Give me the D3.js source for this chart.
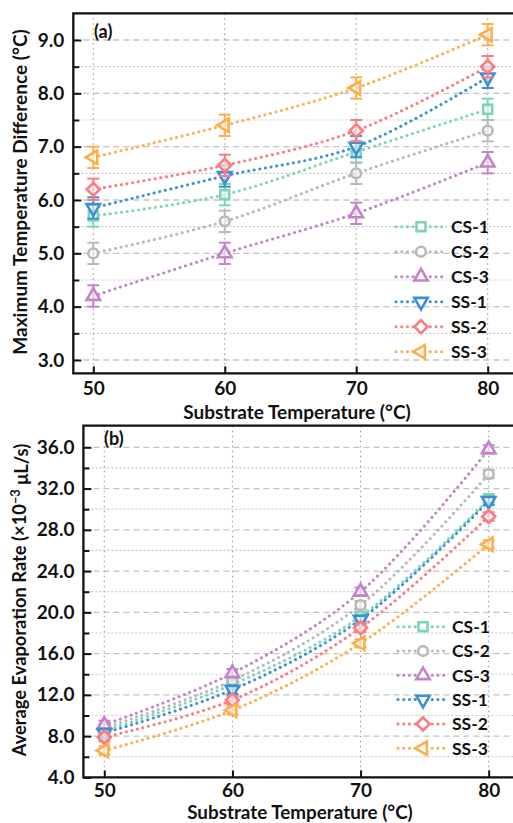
<!DOCTYPE html>
<html><head><meta charset="utf-8">
<script src="https://cdn.jsdelivr.net/npm/d3@7"></script>
<style>
html,body{margin:0;padding:0;background:#fff;overflow:hidden}
text{font-family:Lato,"Open Sans",sans-serif;font-weight:700;fill:#111}
</style></head>
<body><svg id="c" width="513" height="823"></svg>
<script>
// ---------- data ----------
const temps = [50, 60, 70, 80];
const seriesNames = ["CS-1", "CS-2", "CS-3", "SS-1", "SS-2", "SS-3"];
const seriesColors = ["#7dd6b2", "#b9b9b9", "#c283c9", "#3d8fd6", "#fb7b80", "#ffae4c"];
const seriesShapes = ["square", "circle", "up", "down", "diamond", "left"];

// (a) Maximum temperature difference (°C)
const tdCS1 = [5.7, 6.1, 6.9, 7.7];
const tdCS2 = [5.0, 5.6, 6.5, 7.3];
const tdCS3 = [4.2, 5.0, 5.75, 6.7];
const tdSS1 = [5.85, 6.45, 7.0, 8.3];
const tdSS2 = [6.2, 6.65, 7.3, 8.5];
const tdSS3 = [6.8, 7.4, 8.1, 9.1];
const tdErr = [0.2, 0.2, 0.2, 0.2];

// (b) Average evaporation rate (×10^-3 µL/s)
const erCS1 = [8.5, 13.0, 19.6, 31.0];
const erCS2 = [8.8, 13.4, 20.7, 33.4];
const erCS3 = [9.1, 14.1, 22.0, 35.8];
const erSS1 = [8.3, 12.5, 19.3, 30.8];
const erSS2 = [7.9, 11.5, 18.5, 29.3];
const erSS3 = [6.6, 10.5, 17.0, 26.6];
const erErr = [0.4, 0.4, 0.4, 0.4];

const yTicksA = [3.0, 4.0, 5.0, 6.0, 7.0, 8.0, 9.0];
const yMinorA = [3.5, 4.5, 5.5, 6.5, 7.5, 8.5];
const yTicksB = [4, 8, 12, 16, 20, 24, 28, 32, 36];
const yMinorB = [6, 10, 14, 18, 22, 26, 30, 34];

const tdData = [tdCS1, tdCS2, tdCS3, tdSS1, tdSS2, tdSS3];
const erData = [erCS1, erCS2, erCS3, erSS1, erSS2, erSS3];

// ---------- drawing ----------
const svg = d3.select("#c");

function markerPath(shape) {
  switch (shape) {
    case "square": return {d: d3.symbol().type(d3.symbolSquare).size(80)(), r: 0};
    case "circle": return {d: d3.symbol().type(d3.symbolCircle).size(75)(), r: 0};
    case "up": return {d: d3.symbol().type(d3.symbolTriangle).size(78)(), r: 0};
    case "down": return {d: d3.symbol().type(d3.symbolTriangle).size(78)(), r: 180};
    case "left": return {d: d3.symbol().type(d3.symbolTriangle).size(78)(), r: -90};
    case "diamond": return {d: d3.symbol().type(d3.symbolSquare).size(85)(), r: 45};
  }
}

function fit(t, target) {
  const fs = parseFloat(t.style("font-size"));
  const w = t.node().getBBox().width;
  t.style("font-size", (fs * target / w) + "px");
}

function panel(cfg) {
  const g = svg.append("g");
  const x = d3.scaleLinear().domain([50, 80]).range(cfg.xr);
  const y = d3.scaleLinear().domain(cfg.yd).range(cfg.yr);
  const left = x(cfg.xmin), right = 520, top = y(cfg.ymax), bottom = y(cfg.ymin);

  // grid
  const grid = g.append("g");
  grid.selectAll(".maj").data(cfg.yt).join("line")
    .attr("x1", left).attr("x2", right).attr("y1", d => y(d)).attr("y2", d => y(d))
    .attr("stroke", "#c4c4c4").attr("stroke-width", 1.3).attr("stroke-dasharray", "6,4");
  grid.selectAll(".min").data(cfg.ym).join("line")
    .attr("x1", left).attr("x2", right).attr("y1", d => y(d)).attr("y2", d => y(d))
    .attr("stroke", "#c8c8c8").attr("stroke-width", 1.2).attr("stroke-dasharray", "2,2");
  grid.selectAll(".vx").data(temps).join("line")
    .attr("x1", d => x(d)).attr("x2", d => x(d)).attr("y1", top).attr("y2", bottom)
    .attr("stroke", "#9a9a9a").attr("stroke-width", 1.1).attr("stroke-dasharray", "1.5,3.5");

  // axes (ticks inward)
  const yAxis = d3.axisLeft(y).tickValues(cfg.yt).tickFormat(d3.format(".1f")).tickSize(-8).tickPadding(9);
  const ay = g.append("g").attr("transform", `translate(${left},0)`).call(yAxis);
  ay.select(".domain").remove();
  ay.selectAll("line").attr("stroke", "#111").attr("stroke-width", 2);
  ay.selectAll("text").style("font-size", "19px").attr("fill", "#111");
  const yMinorAxis = d3.axisLeft(y).tickValues(cfg.ym).tickFormat("").tickSize(-6);
  const aym = g.append("g").attr("transform", `translate(${left},0)`).call(yMinorAxis);
  aym.select(".domain").remove();
  aym.selectAll("line").attr("stroke", "#111").attr("stroke-width", 2);

  const xAxis = d3.axisBottom(x).tickValues(temps).tickFormat(d3.format("d")).tickSize(-7).tickPadding(cfg.xpad);
  const ax = g.append("g").attr("transform", `translate(0,${bottom})`).call(xAxis);
  ax.select(".domain").remove();
  ax.selectAll("line").attr("stroke", "#111").attr("stroke-width", 2);
  ax.selectAll("text").style("font-size", "19px").attr("fill", "#111");

  // frame
  g.append("path").attr("d", `M${right},${top}H${left}V${bottom}H${right}`)
    .attr("fill", "none").attr("stroke", "#111").attr("stroke-width", 2.3);

  // titles
  const xt = g.append("text").attr("x", cfg.xtX).attr("y", cfg.xtY).attr("text-anchor", "middle")
    .style("font-size", "17px").text("Substrate Temperature (°C)");
  fit(xt, cfg.xtW);
  const yt = g.append("text").attr("transform", `translate(${cfg.ytX},${cfg.ytY}) rotate(-90)`)
    .attr("text-anchor", "middle").style("font-size", "17px");
  cfg.ytitle(yt);
  fit(yt, cfg.ytW);
  g.append("text").attr("x", cfg.lblX).attr("y", cfg.lblY).style("font-size", "18px").text(cfg.label);

  // series
  const line = d3.line().x((d, i) => x(temps[i])).y(d => y(d)).curve(d3.curveCatmullRom.alpha(0.5));
  cfg.data.forEach((vals, si) => {
    g.append("path").attr("d", line(vals)).attr("fill", "none")
      .attr("stroke", seriesColors[si]).attr("stroke-width", 3)
      .attr("stroke-linecap", "round").attr("stroke-dasharray", "0.1,5.6");
  });
  cfg.data.forEach((vals, si) => {
    const c = seriesColors[si];
    const sg = g.append("g");
    vals.forEach((v, i) => {
      const e = cfg.err[i], cx = x(temps[i]);
      sg.append("line").attr("x1", cx).attr("x2", cx).attr("y1", y(v - e)).attr("y2", y(v + e))
        .attr("stroke", c).attr("stroke-width", 2);
      [v - e, v + e].forEach(w => sg.append("line").attr("x1", cx - 6).attr("x2", cx + 6)
        .attr("y1", y(w)).attr("y2", y(w)).attr("stroke", c).attr("stroke-width", 2));
      const m = markerPath(seriesShapes[si]);
      sg.append("path").attr("d", m.d)
        .attr("transform", `translate(${cx},${y(v)}) rotate(${m.r})`)
        .attr("fill", "#fff").attr("fill-opacity", 0.6).attr("stroke", c).attr("stroke-width", 2.6);
    });
  });

  // legend
  const lg = g.append("g");
  seriesNames.forEach((n, i) => {
    const ly = cfg.legY + i * cfg.legDy;
    lg.append("line").attr("x1", cfg.legX1).attr("x2", cfg.legX2).attr("y1", ly).attr("y2", ly)
      .attr("stroke", seriesColors[i]).attr("stroke-width", 3)
      .attr("stroke-linecap", "round").attr("stroke-dasharray", "0.1,5.6");
    const m = markerPath(seriesShapes[i]);
    lg.append("path").attr("d", m.d)
      .attr("transform", `translate(${cfg.legM},${ly}) rotate(${m.r})`)
      .attr("fill", "#fff").attr("stroke", seriesColors[i]).attr("stroke-width", 2.6);
    lg.append("text").attr("x", cfg.legT).attr("y", ly).attr("dy", "0.36em")
      .style("font-size", "17.5px").text(n);
  });
}

panel({
  data: tdData, err: tdErr, yt: yTicksA, ym: yMinorA, xpad: 8,
  xr: [93.3, 487.7], yd: [3, 9], yr: [360, 40], xmin: 48.48, ymin: 2.75, ymax: 9.5,
  xtX: 297, xtY: 419, xtW: 228, ytX: 27, ytY: 192, ytW: 326, label: "(a)", lblX: 94, lblY: 38,
  ytitle: t => t.text("Maximum Temperature Difference (°C)"),
  legY: 226.7, legDy: 25, legX1: 396, legX2: 445, legM: 421, legT: 451
});

panel({
  data: erData, err: erErr, yt: yTicksB, ym: yMinorB, xpad: 6,
  xr: [104.3, 488.7], yd: [4, 36], yr: [777.4, 447.3], xmin: 48.37, ymin: 4, ymax: 38.1,
  xtX: 300, xtY: 818.5, xtW: 226, ytX: 26, ytY: 600, ytW: 314, label: "(b)", lblX: 104, lblY: 445,
  ytitle: t => {
    t.append("tspan").text("Average Evaporation Rate (×10");
    t.append("tspan").attr("dy", "-0.45em").style("font-size", "0.7em").text("−3");
    t.append("tspan").attr("dy", "0.45em").text(" μL/s)");
  },
  legY: 626.7, legDy: 24.3, legX1: 398, legX2: 446, legM: 423, legT: 452
});
</script></body></html>
